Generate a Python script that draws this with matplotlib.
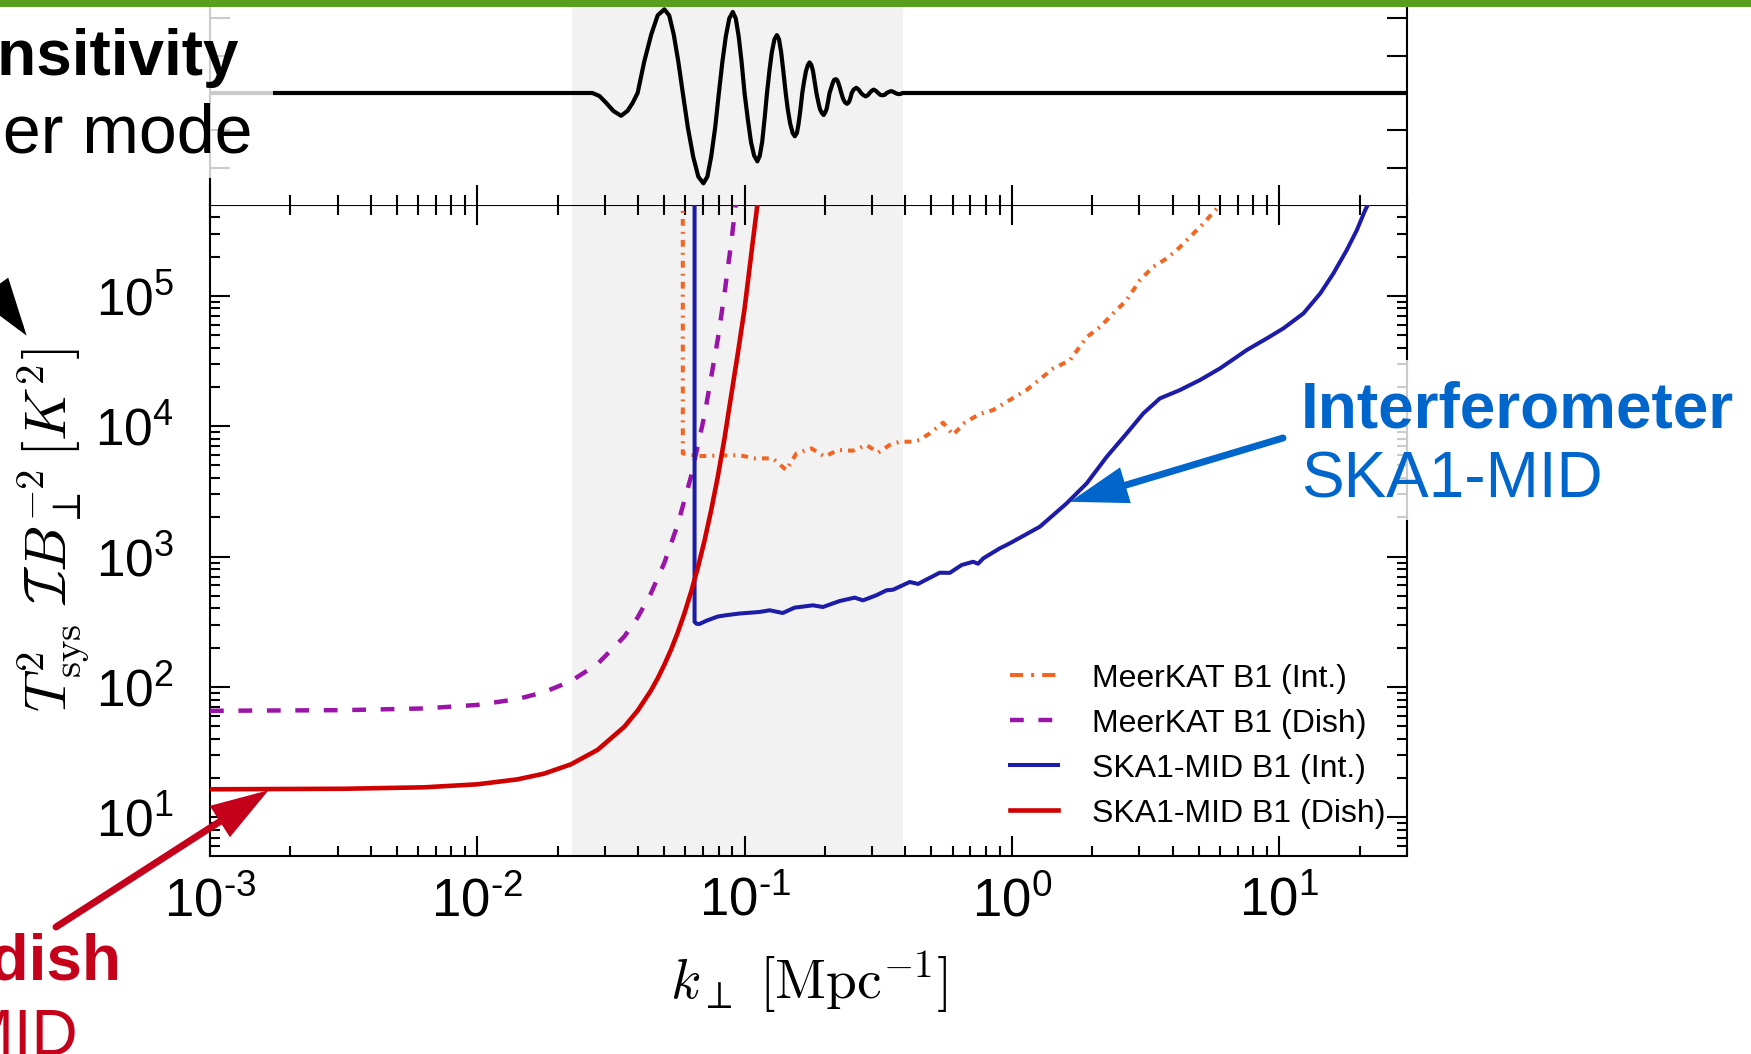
import numpy as np
import matplotlib
matplotlib.use("Agg")
import matplotlib.pyplot as plt
from matplotlib.ticker import LogLocator, NullFormatter, FuncFormatter, FixedLocator
from matplotlib.lines import Line2D
from matplotlib.patches import Rectangle, FancyArrowPatch

plt.rcParams["font.family"] = ["Liberation Sans", "DejaVu Sans"]
plt.rcParams["mathtext.fontset"] = "custom"
plt.rcParams["mathtext.rm"] = "Liberation Sans"
plt.rcParams["mathtext.it"] = "Liberation Sans:italic"
plt.rcParams["mathtext.bf"] = "Liberation Sans:bold"

# ---------------------------------------------------------------- data
# BAO wiggle panel: log10(k) and relative amplitude
wave_logk = [-3.0, -1.569, -1.543, -1.517, -1.491, -1.462, -1.438, -1.419, -1.400,
             -1.375, -1.349, -1.325, -1.300, -1.282, -1.265, -1.248, -1.231,
             -1.212, -1.192, -1.173, -1.154, -1.139, -1.125, -1.110, -1.096,
             -1.083, -1.070, -1.057, -1.044, -1.033, -1.022, -1.011, -1.000,
             -0.988, -0.976, -0.964, -0.952, -0.943, -0.934, -0.925, -0.916,
             -0.907, -0.898, -0.888, -0.879, -0.871, -0.863, -0.855, -0.846,
             -0.838, -0.829, -0.820, -0.812, -0.804, -0.798, -0.791, -0.784,
             -0.777, -0.770, -0.763, -0.757, -0.750, -0.744, -0.738, -0.731,
             -0.725, -0.718, -0.711, -0.704, -0.699, -0.693, -0.687, -0.682,
             -0.676, -0.670, -0.665, -0.659, -0.654, -0.649, -0.643, -0.638,
             -0.631, -0.624, -0.617, -0.610, -0.605, -0.599,
             -0.592, -0.582, -0.573, -0.564,
             -0.555, -0.547, -0.539, -0.532,
             -0.524, -0.517, -0.509, -0.500,
             -0.492, -0.484, -0.476, -0.468,
             -0.460, -0.451, -0.443, -0.436,
             -0.429, -0.422, -0.415, -0.408, 1.5]
wave_amp = [0, 0, -0.08, -0.27, -0.48, -0.61, -0.48, -0.27, 0,
            0.85, 1.57, 2.08, 2.24, 2.08, 1.57, 0.85, 0,
            -0.93, -1.71, -2.24, -2.42, -2.24, -1.71, -0.93, 0,
            0.83, 1.52, 2.00, 2.17, 2.00, 1.52, 0.83, 0,
            -0.69, -1.31, -1.68, -1.83, -1.68, -1.31, -0.69, 0,
            0.59, 1.09, 1.44, 1.55, 1.44, 1.09, 0.59, 0,
            -0.45, -0.83, -1.07, -1.16, -1.07, -0.83, -0.45, 0,
            0.32, 0.59, 0.75, 0.82, 0.75, 0.59, 0.32, 0,
            -0.21, -0.43, -0.53, -0.59, -0.53, -0.43, -0.21, 0,
            0.13, 0.27, 0.35, 0.37, 0.35, 0.27, 0.13, 0,
            -0.16, -0.25, -0.29, -0.25, -0.16, 0,
            0.09, 0.14, 0.09, 0,
            -0.06, -0.09, -0.06, 0,
            0.06, 0.09, 0.06, 0,
            -0.05, -0.06, -0.05, 0,
            0.03, 0.05, 0.03, 0,
            -0.02, -0.03, -0.02, 0, 0]

# BAO band [Mpc^-1]
bao_band = (0.0226, 0.392)

# noise curves: log10(k_perp) and log10(T_sys^2 I B^-2)
meerkat_int_logk = [-1.231, -1.231, -1.169, -1.100, -1.019, -0.963, -0.894, -0.844,
                    -0.806, -0.750, -0.700, -0.651, -0.594, -0.544, -0.500, -0.457,
                    -0.419, -0.370, -0.345, -0.307, -0.257, -0.220, -0.176, -0.120,
                    -0.070, -0.008, 0.055, 0.155, 0.217, 0.280, 0.330, 0.379,
                    0.430, 0.479, 0.529, 0.579, 0.617, 0.667, 0.717, 0.767, 0.790]
meerkat_int_logy = [5.75, 3.791, 3.770, 3.775, 3.778, 3.753, 3.753, 3.663,
                    3.791, 3.830, 3.766, 3.817, 3.812, 3.856, 3.797, 3.856,
                    3.881, 3.881, 3.894, 3.945, 4.027, 3.933, 4.027, 4.094,
                    4.124, 4.200, 4.277, 4.443, 4.504, 4.683, 4.760, 4.865,
                    4.967, 5.120, 5.222, 5.286, 5.350, 5.452, 5.555, 5.670, 5.75]

meerkat_dish_logk = [-3.0, -2.5, -2.2, -2.0, -1.85, -1.75, -1.65, -1.55,
                     -1.45, -1.40, -1.35, -1.30, -1.25, -1.20, -1.15, -1.10,
                     -1.075, -1.05, -1.03]
meerkat_dish_logy = [1.817, 1.822, 1.835, 1.862, 1.907, 1.960, 2.044, 2.176,
                     2.386, 2.533, 2.719, 2.952, 3.246, 3.616, 4.082, 4.668,
                     5.017, 5.407, 5.750]

ska_int_logk = [-1.187, -1.187, -1.180, -1.169, -1.140, -1.100, -1.069, -1.019,
                -0.944, -0.906, -0.857, -0.813, -0.744, -0.707, -0.644, -0.588,
                -0.557, -0.507, -0.469, -0.444, -0.382, -0.351, -0.270, -0.232,
                -0.188, -0.145, -0.126, -0.107, -0.045, -0.008, 0.105, 0.205,
                0.280, 0.355, 0.430, 0.492, 0.554, 0.629, 0.704, 0.779,
                0.879, 0.954, 1.016, 1.091, 1.154, 1.203, 1.253, 1.291,
                1.322, 1.345]
ska_int_logy = [5.75, 2.500, 2.485, 2.483, 2.510, 2.540, 2.550, 2.563,
                2.575, 2.588, 2.567, 2.608, 2.626, 2.613, 2.659, 2.685,
                2.664, 2.703, 2.741, 2.746, 2.805, 2.790, 2.876, 2.875,
                2.935, 2.960, 2.945, 2.986, 3.063, 3.101, 3.229, 3.408,
                3.561, 3.765, 3.945, 4.098, 4.213, 4.277, 4.354, 4.443,
                4.584, 4.673, 4.750, 4.865, 5.018, 5.171, 5.350, 5.504,
                5.657, 5.75]

ska_dish_logk = [-3.0, -2.5, -2.2, -2.0, -1.85, -1.75, -1.65, -1.55,
                 -1.45, -1.40, -1.35, -1.325, -1.30, -1.275, -1.25, -1.225,
                 -1.20, -1.175, -1.15, -1.125, -1.10, -1.075, -1.05, -1.025,
                 -1.00, -0.985, -0.97, -0.95, -0.94]
ska_dish_logy = [1.215, 1.219, 1.230, 1.253, 1.291, 1.335, 1.406, 1.517,
                 1.694, 1.818, 1.973, 2.066, 2.170, 2.286, 2.417, 2.564,
                 2.729, 2.913, 3.120, 3.354, 3.613, 3.906, 4.235, 4.560,
                 4.900, 5.150, 5.400, 5.730, 5.900]

series_labels = ["MeerKAT B1 (Int.)", "MeerKAT B1 (Dish)",
                 "SKA1-MID B1 (Int.)", "SKA1-MID B1 (Dish)"]
x_tick_exps = [-3, -2, -1, 0, 1]
y_tick_exps = [1, 2, 3, 4, 5]

# ---------------------------------------------------------------- styles
C_ORANGE = "#F26522"
C_PURPLE = "#9B14A8"
C_BLUE = "#1C1CA8"
C_RED = "#D00000"
C_ANN_RED = "#C4001A"
C_ANN_BLUE = "#0066CC"
DASHDOT_PLOT = (0, (1.7, 1.5, 0.5, 1.5))
DASHDOT_KEY = (0, (3.25, 2.0, 0.75, 2.0))
DASHED = (0, (3.1, 3.3))

W, H = 1751, 1054
fig = plt.figure(figsize=(W / 100, H / 100), dpi=100)


def fx(px):
    return px / W


def fy(py):
    return 1 - py / H


ax = fig.add_axes([fx(210), fy(856), 1197 / W, 651 / H])
axt = fig.add_axes([fx(210), fy(205), 1197 / W, 224 / H], sharex=ax)

ax.set_xscale("log")
ax.set_yscale("log")
ax.set_xlim(1e-3, 30.1)
ax.set_ylim(5.05, 4.97e5)

for a in (ax, axt):
    a.axvspan(*bao_band, color="#f2f2f2", lw=0, zorder=0)
    for s in a.spines.values():
        s.set_linewidth(1.5)

# wiggle panel
axt.plot(10 ** np.array(wave_logk), wave_amp, color="black", lw=3.0,
         solid_joinstyle="round", zorder=3)
axt.set_ylim(-3, 3)
axt.yaxis.set_major_locator(FixedLocator([-2, -1, 0, 1, 2]))
axt.tick_params(axis="y", which="both", left=True, right=True, direction="in",
                length=14.4, width=1.5, labelleft=False)
axt.tick_params(axis="x", which="major", bottom=True, top=False, direction="in",
                length=14.4, width=1.5, labelbottom=False)
axt.tick_params(axis="x", which="minor", bottom=True, top=False, direction="in",
                length=7.2, width=1.5, labelbottom=False)
axt.spines["bottom"].set_visible(False)

# noise curves
ax.plot(10 ** np.array(meerkat_int_logk), 10 ** np.array(meerkat_int_logy),
        color=C_ORANGE, lw=2.9, linestyle=DASHDOT_PLOT, zorder=3)
ax.plot(10 ** np.array(meerkat_dish_logk), 10 ** np.array(meerkat_dish_logy),
        color=C_PURPLE, lw=3.2, linestyle=DASHED, zorder=3)
ax.plot(10 ** np.array(ska_int_logk), 10 ** np.array(ska_int_logy),
        color=C_BLUE, lw=2.9, zorder=4)
ax.plot(10 ** np.array(ska_dish_logk), 10 ** np.array(ska_dish_logy),
        color=C_RED, lw=3.3, zorder=5)

key_handles = [
    Line2D([], [], color=C_ORANGE, lw=2.9, linestyle=DASHDOT_KEY),
    Line2D([], [], color=C_PURPLE, lw=3.2, linestyle=DASHED),
    Line2D([], [], color=C_BLUE, lw=2.9),
    Line2D([], [], color=C_RED, lw=3.3),
]

ax.xaxis.set_major_locator(FixedLocator([10.0 ** e for e in x_tick_exps]))
ax.yaxis.set_major_locator(FixedLocator([10.0 ** e for e in y_tick_exps]))
ax.xaxis.set_minor_locator(LogLocator(base=10, subs=np.arange(2, 10), numticks=50))
ax.yaxis.set_minor_locator(LogLocator(base=10, subs=np.arange(2, 10), numticks=50))
ax.xaxis.set_minor_formatter(NullFormatter())
ax.yaxis.set_minor_formatter(NullFormatter())


def pow_label(v, pos):
    e = int(round(np.log10(v)))
    if e < 0:
        return r"$10^{\text{-}%d}$" % (-e)
    return r"$10^{%d}$" % e


ax.xaxis.set_major_formatter(FuncFormatter(pow_label))
ax.yaxis.set_major_formatter(FuncFormatter(pow_label))

ax.tick_params(which="major", direction="in", length=14.4, width=1.5,
               top=True, right=True)
ax.tick_params(which="minor", direction="in", length=7.2, width=1.5,
               top=True, right=True)
ax.tick_params(axis="x", which="major", pad=15, labelsize=38)
ax.tick_params(axis="y", which="major", pad=26, labelsize=37)

ax.set_xlabel(r"$k_\perp\ [{\rm Mpc}^{-1}]$", fontsize=40,
              math_fontfamily="cm", labelpad=16)
ax.set_ylabel(r"$T^2_{\rm sys}\ \mathcal{I}B_\perp^{-2}\,[K^2]$", fontsize=42,
              math_fontfamily="cm", labelpad=2)

ax.legend(key_handles, series_labels, loc="lower right",
          bbox_to_anchor=(0.982, 0.042), frameon=False, fontsize=23,
          handlelength=1.5, handletextpad=1.05, labelspacing=0.47,
          borderpad=0, borderaxespad=0)

# translucent backing behind slide captions
fig.add_artist(Rectangle((0, fy(178)), fx(273), 178 / H, transform=fig.transFigure,
                         facecolor="white", edgecolor="none", alpha=0.8, zorder=5))
fig.add_artist(Rectangle((fx(1280), fy(520)), 1 - fx(1280), 160 / H,
                         transform=fig.transFigure, facecolor="white",
                         edgecolor="none", alpha=0.8, zorder=5))

# slide captions
fig.text(fx(239), fy(75), "Sensitivity", ha="right", va="baseline",
         fontsize=46, fontweight="bold", color="black", zorder=7)
fig.text(fx(252), fy(153), "per mode", ha="right", va="baseline",
         fontsize=49, color="black", zorder=7)
fig.text(fx(1301), fy(427), "Interferometer", ha="left", va="baseline",
         fontsize=46, fontweight="bold", color=C_ANN_BLUE, zorder=7)
fig.text(fx(1301), fy(497), "SKA1-MID", ha="left", va="baseline",
         fontsize=46, color=C_ANN_BLUE, zorder=7)
fig.text(fx(121), fy(980), "Single dish", ha="right", va="baseline",
         fontsize=46, fontweight="bold", color=C_ANN_RED, zorder=7)
fig.text(fx(78), fy(1055), "SKA1-MID", ha="right", va="baseline",
         fontsize=46, color=C_ANN_RED, zorder=7)


def slide_arrow(tail, tip, color, shrink=3):
    arr = FancyArrowPatch((fx(tail[0]), fy(tail[1])), (fx(tip[0]), fy(tip[1])),
                          transform=fig.transFigure,
                          arrowstyle="-|>,head_length=3.1,head_width=1.0",
                          mutation_scale=10, lw=5, color=color,
                          shrinkA=0, shrinkB=shrink, joinstyle="miter", zorder=8)
    fig.add_artist(arr)


slide_arrow((1283, 438), (1066, 503), C_ANN_BLUE)
slide_arrow((56, 927), (272, 788), C_ANN_RED)
slide_arrow((-120, 130), (29, 339), "black")

# header stripe
fig.add_artist(Rectangle((0, fy(7)), 1, 7 / H, transform=fig.transFigure,
                         facecolor="#5A9E1E", edgecolor="none", zorder=10))

fig.savefig("out.png", dpi=100)
